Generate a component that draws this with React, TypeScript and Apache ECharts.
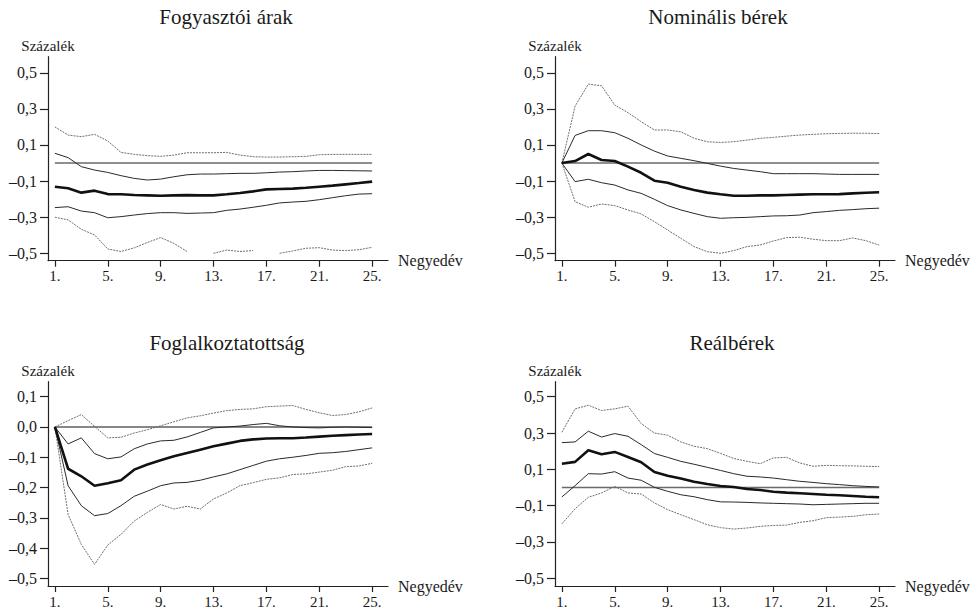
import React, { useEffect, useRef } from "react";
import * as echarts from "echarts";

// ---------- data ----------
const quarters = [1, 2, 3, 4, 5, 6, 7, 8, 9, 10, 11, 12, 13, 14, 15, 16, 17, 18, 19, 20, 21, 22, 23, 24, 25];
const xTickValues = [1, 5, 9, 13, 17, 21, 25];
const yTicksWide = [-0.5, -0.3, -0.1, 0.1, 0.3, 0.5];
const yTicksEmployment = [-0.5, -0.4, -0.3, -0.2, -0.1, 0, 0.1];
const zeroRef = [[1, 0], [25, 0]];

const titles = ["Fogyasztói árak", "Nominális bérek", "Foglalkoztatottság", "Reálbérek"];
const yAxisName = "Százalék";
const xAxisName = "Negyedév";

// Fogyasztói árak
const cpiUpperOuter = [0.2, 0.155, 0.146, 0.159, 0.122, 0.059, 0.048, 0.041, 0.037, 0.044, 0.057, 0.057, 0.057, 0.059, 0.044, 0.035, 0.033, 0.033, 0.035, 0.037, 0.046, 0.048, 0.048, 0.048, 0.048];
const cpiUpperInner = [0.054, 0.03, -0.02, -0.039, -0.052, -0.07, -0.085, -0.094, -0.089, -0.076, -0.065, -0.061, -0.061, -0.059, -0.057, -0.057, -0.054, -0.05, -0.048, -0.044, -0.041, -0.041, -0.042, -0.043, -0.044];
const cpiMedian = [-0.131, -0.14, -0.164, -0.153, -0.172, -0.173, -0.177, -0.179, -0.181, -0.179, -0.178, -0.179, -0.179, -0.173, -0.166, -0.157, -0.146, -0.144, -0.142, -0.137, -0.131, -0.125, -0.118, -0.111, -0.103];
const cpiLowerInner = [-0.247, -0.242, -0.266, -0.275, -0.303, -0.297, -0.288, -0.28, -0.275, -0.275, -0.279, -0.277, -0.275, -0.262, -0.255, -0.245, -0.234, -0.221, -0.216, -0.212, -0.203, -0.192, -0.181, -0.172, -0.17];
const cpiLowerOuter = [-0.3, -0.315, -0.367, -0.398, -0.476, -0.49, -0.47, -0.44, -0.413, -0.445, -0.49, null, -0.5, -0.482, -0.49, -0.485, null, -0.5, -0.487, -0.472, -0.469, -0.482, -0.485, -0.48, -0.467];

// Nominális bérek
const nomUpperOuter = [0, 0.315, 0.437, 0.428, 0.321, 0.279, 0.229, 0.183, 0.183, 0.173, 0.137, 0.118, 0.114, 0.118, 0.127, 0.137, 0.142, 0.149, 0.155, 0.159, 0.162, 0.164, 0.165, 0.165, 0.163];
const nomUpperInner = [0, 0.153, 0.179, 0.179, 0.168, 0.137, 0.1, 0.066, 0.039, 0.026, 0.013, -0.002, -0.017, -0.03, -0.039, -0.048, -0.059, -0.059, -0.059, -0.059, -0.061, -0.063, -0.063, -0.063, -0.063];
const nomMedian = [0, 0.011, 0.05, 0.017, 0.011, -0.02, -0.054, -0.098, -0.109, -0.131, -0.149, -0.164, -0.173, -0.181, -0.181, -0.179, -0.179, -0.177, -0.175, -0.173, -0.173, -0.172, -0.168, -0.165, -0.162];
const nomLowerInner = [0, -0.103, -0.09, -0.109, -0.122, -0.149, -0.168, -0.201, -0.236, -0.26, -0.279, -0.297, -0.306, -0.303, -0.301, -0.297, -0.293, -0.292, -0.288, -0.275, -0.269, -0.262, -0.258, -0.253, -0.25];
const nomLowerOuter = [0, -0.214, -0.245, -0.227, -0.236, -0.26, -0.282, -0.325, -0.371, -0.417, -0.463, -0.491, -0.5, -0.485, -0.463, -0.454, -0.432, -0.413, -0.411, -0.422, -0.43, -0.43, -0.415, -0.43, -0.455];

// Foglalkoztatottság
const empUpperOuter = [0, 0.021, 0.041, 0.002, -0.036, -0.034, -0.02, -0.009, 0.004, 0.017, 0.03, 0.037, 0.046, 0.054, 0.058, 0.06, 0.067, 0.069, 0.071, 0.058, 0.047, 0.038, 0.041, 0.05, 0.063];
const empUpperInner = [0, -0.056, -0.036, -0.088, -0.105, -0.099, -0.072, -0.056, -0.046, -0.044, -0.033, -0.018, -0.003, 0, 0.003, 0.008, 0.012, 0.004, 0, -0.002, -0.003, -0.001, 0, -0.001, -0.002];
const empMedian = [0, -0.138, -0.163, -0.194, -0.186, -0.176, -0.141, -0.124, -0.11, -0.097, -0.086, -0.075, -0.064, -0.055, -0.046, -0.041, -0.038, -0.037, -0.037, -0.035, -0.032, -0.029, -0.027, -0.025, -0.023];
const empLowerInner = [0, -0.194, -0.26, -0.293, -0.286, -0.26, -0.229, -0.212, -0.194, -0.185, -0.183, -0.176, -0.165, -0.155, -0.141, -0.127, -0.113, -0.105, -0.1, -0.094, -0.087, -0.085, -0.081, -0.075, -0.069];
const empLowerOuter = [0, -0.289, -0.388, -0.454, -0.39, -0.355, -0.311, -0.282, -0.256, -0.271, -0.262, -0.271, -0.238, -0.218, -0.194, -0.184, -0.173, -0.168, -0.157, -0.155, -0.149, -0.143, -0.131, -0.129, -0.12];

// Reálbérek
const realUpperOuter = [0.304, 0.433, 0.453, 0.424, 0.433, 0.448, 0.352, 0.3, 0.288, 0.251, 0.227, 0.214, 0.188, 0.16, 0.144, 0.131, 0.163, 0.166, 0.135, 0.117, 0.122, 0.12, 0.119, 0.117, 0.115];
const realUpperInner = [0.247, 0.251, 0.31, 0.278, 0.297, 0.282, 0.236, 0.187, 0.166, 0.144, 0.128, 0.111, 0.094, 0.076, 0.062, 0.058, 0.052, 0.043, 0.034, 0.028, 0.021, 0.016, 0.01, 0.006, 0.003];
const realMedian = [0.131, 0.141, 0.205, 0.183, 0.196, 0.168, 0.139, 0.085, 0.065, 0.049, 0.032, 0.019, 0.008, 0.003, -0.008, -0.014, -0.023, -0.028, -0.032, -0.036, -0.04, -0.043, -0.047, -0.051, -0.054];
const realLowerInner = [-0.052, 0.01, 0.076, 0.074, 0.087, 0.052, 0.04, 0.001, -0.021, -0.04, -0.051, -0.067, -0.079, -0.08, -0.082, -0.085, -0.087, -0.089, -0.091, -0.095, -0.093, -0.091, -0.089, -0.087, -0.087];
const realLowerOuter = [-0.2, -0.117, -0.054, -0.03, 0.006, -0.03, -0.036, -0.085, -0.122, -0.15, -0.177, -0.205, -0.221, -0.229, -0.223, -0.214, -0.209, -0.207, -0.192, -0.183, -0.166, -0.163, -0.159, -0.15, -0.146];

// ---------- layout ----------
const FONT = "'Liberation Serif', 'Times New Roman', 'DejaVu Serif', serif";
const TEXT = "#1a1a1a";

const panels = [
  { left: 48, top: 56.7, height: 204, yMin: -0.541, yMax: 0.589, ticks: yTicksWide, titleX: 226, titleY: 17, zeroColor: "#6a6a6a", zeroWidth: 1.6,
    bands: [cpiUpperOuter, cpiUpperInner, cpiMedian, cpiLowerInner, cpiLowerOuter] },
  { left: 555, top: 56.7, height: 204, yMin: -0.541, yMax: 0.589, ticks: yTicksWide, titleX: 718, titleY: 17, zeroColor: "#6a6a6a", zeroWidth: 1.6,
    bands: [nomUpperOuter, nomUpperInner, nomMedian, nomLowerInner, nomLowerOuter] },
  { left: 48, top: 381.7, height: 204.3, yMin: -0.5254, yMax: 0.1496, ticks: yTicksEmployment, titleX: 227, titleY: 343, zeroColor: "#111", zeroWidth: 1.2,
    bands: [empUpperOuter, empUpperInner, empMedian, empLowerInner, empLowerOuter] },
  { left: 555, top: 381.7, height: 204.3, yMin: -0.5424, yMax: 0.5826, ticks: yTicksWide, titleX: 732, titleY: 343, zeroColor: "#6a6a6a", zeroWidth: 1.6,
    bands: [realUpperOuter, realUpperInner, realMedian, realLowerInner, realLowerOuter] },
];

const fmtY = (v: number) => {
  const s = Math.abs(v).toFixed(1).replace(".", ",");
  return v < -1e-9 ? "\u2013" + s : s;
};

const bandStyles = [
  { color: "#6e6e6e", width: 1, type: [2, 1] as any },
  { color: "#2a2a2a", width: 1, type: "solid" },
  { color: "#111111", width: 2.6, type: "solid" },
  { color: "#2a2a2a", width: 1, type: "solid" },
  { color: "#6e6e6e", width: 1, type: [2, 1] as any },
];

export default function App() {
  const ref = useRef<HTMLDivElement>(null);
  useEffect(() => {
    if (!ref.current) return;
    const chart = echarts.init(ref.current, undefined, { renderer: "svg" });

    const series: any[] = [];
    panels.forEach((p, i) => {
      series.push({
        type: "line",
        xAxisIndex: i,
        yAxisIndex: i,
        data: zeroRef,
        symbol: "none",
        lineStyle: { color: p.zeroColor, width: p.zeroWidth },
        z: 1,
        silent: true,
      });
      p.bands.forEach((arr, k) => {
        series.push({
          type: "line",
          xAxisIndex: i,
          yAxisIndex: i,
          data: quarters.map((q, j) => [q, arr[j]]),
          symbol: "none",
          connectNulls: false,
          lineStyle: bandStyles[k],
          z: k === 2 ? 4 : 3,
          silent: true,
        });
      });
    });

    const option: any = {
      animation: false,
      backgroundColor: "#ffffff",
      textStyle: { fontFamily: FONT, color: TEXT },
      grid: panels.map((p) => ({ left: p.left, top: p.top, width: 340, height: p.height, containLabel: false })),
      xAxis: panels.map((p, i) => ({
        gridIndex: i,
        type: "value",
        min: 0.48,
        max: 26.2,
        name: xAxisName,
        nameLocation: "end",
        nameGap: 10,
        nameTextStyle: { fontFamily: FONT, fontSize: 16, color: TEXT },
        axisLine: { show: true, onZero: false, lineStyle: { color: "#222", width: 1.2 } },
        axisTick: { show: true, inside: false, length: 6, customValues: xTickValues, lineStyle: { color: "#222", width: 1.2 } },
        axisLabel: { show: true, customValues: xTickValues, margin: 8, fontFamily: FONT, fontSize: 15, color: TEXT, formatter: (v: number) => v + "." },
        splitLine: { show: false },
      })),
      yAxis: panels.map((p, i) => ({
        gridIndex: i,
        type: "value",
        min: p.yMin,
        max: p.yMax,
        name: yAxisName,
        nameLocation: "end",
        nameGap: 3,
        nameTextStyle: { fontFamily: FONT, fontSize: 15, color: TEXT, align: "center" },
        axisLine: { show: true, onZero: false, lineStyle: { color: "#222", width: 1.2 } },
        axisTick: { show: true, inside: false, length: 8, customValues: p.ticks, lineStyle: { color: "#222", width: 1.2 } },
        axisLabel: { show: true, customValues: p.ticks, margin: 11, fontFamily: FONT, fontSize: 16, color: TEXT, formatter: fmtY },
        splitLine: { show: false },
      })),
      graphic: panels.map((p, i) => ({
        type: "text",
        x: p.titleX,
        y: p.titleY,
        silent: true,
        style: {
          text: titles[i],
          fontFamily: FONT,
          fontSize: 21,
          fill: TEXT,
          align: "center",
          verticalAlign: "middle",
        },
      })),
      series,
    };
    chart.setOption(option);
    return () => chart.dispose();
  }, []);

  return <div ref={ref} style={{ position: "fixed", left: 0, top: 0, width: 978, height: 615, background: "#fff" }} />;
}
